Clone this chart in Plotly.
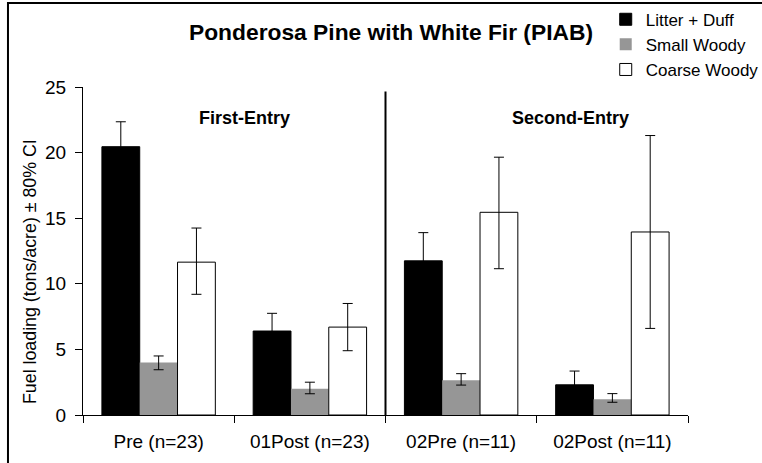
import plotly.graph_objects as go

# data (tons/acre, 80% CI limits)
categories = ["Pre (n=23)", "01Post (n=23)", "02Pre (n=11)", "02Post (n=11)"]
series = ["Litter + Duff", "Small Woody", "Coarse Woody"]

litter = [20.45, 6.4, 11.75, 2.3]
litter_hi = [22.35, 7.75, 13.9, 3.35]
litter_lo = [18.55, 5.05, 9.6, 1.25]

small = [4.0, 2.0, 2.65, 1.2]
small_hi = [4.5, 2.5, 3.15, 1.63]
small_lo = [3.45, 1.62, 2.28, 0.97]

coarse = [11.65, 6.7, 15.45, 13.95]
coarse_hi = [14.25, 8.5, 19.65, 21.3]
coarse_lo = [9.2, 4.9, 11.15, 6.6]

entry_labels = ["First-Entry", "Second-Entry"]

FONT = "Liberation Sans, Arial, sans-serif"


def err(vals, hi, lo):
    return dict(type="data", symmetric=False,
                array=[h - v for v, h in zip(vals, hi)],
                arrayminus=[v - l for v, l in zip(vals, lo)],
                color="black", thickness=1, width=5)


fig = go.Figure()
fig.add_trace(go.Bar(name=series[0], x=categories, y=litter,
                     marker=dict(color="black", line=dict(color="black", width=1)),
                     error_y=err(litter, litter_hi, litter_lo)))
fig.add_trace(go.Bar(name=series[1], x=categories, y=small,
                     marker=dict(color="#969696", line=dict(color="#969696", width=0)),
                     error_y=err(small, small_hi, small_lo)))
fig.add_trace(go.Bar(name=series[2], x=categories, y=coarse,
                     marker=dict(color="white", line=dict(color="black", width=1)),
                     error_y=err(coarse, coarse_hi, coarse_lo)))

# divider between first and second entry
fig.add_shape(type="line", xref="x", yref="y", x0=1.5, x1=1.5, y0=0, y1=24.65,
              line=dict(color="black", width=2))
# outer frame (cropped on the right and bottom)
fig.add_shape(type="rect", xref="paper", yref="paper",
              x0=-0.124, x1=1.3, y0=-0.3, y1=1.256,
              line=dict(color="black", width=2))

fig.add_annotation(text="<b>" + entry_labels[0] + "</b>", x=0.57, y=22.6,
                   xref="x", yref="y", showarrow=False, font=dict(size=18))
fig.add_annotation(text="<b>" + entry_labels[1] + "</b>", x=2.72, y=22.6,
                   xref="x", yref="y", showarrow=False, font=dict(size=18))
fig.add_annotation(text="Fuel loading (tons/acre) ± 80% CI", textangle=-90,
                   xref="paper", yref="paper", x=(30 - 83) / 605, y=(415 - 272) / 328,
                   xanchor="center", yanchor="middle", showarrow=False,
                   font=dict(size=17.8))

fig.update_layout(
    width=762, height=463,
    margin=dict(l=83, r=74, t=87, b=48, autoexpand=False),
    paper_bgcolor="white", plot_bgcolor="white",
    font=dict(family=FONT, color="black", size=16),
    title=dict(text="<b>Ponderosa Pine with White Fir (PIAB)</b>",
               x=391 / 762, xanchor="center", y=1 - 32 / 463, yanchor="middle",
               font=dict(size=22.8)),
    barmode="group", bargap=0.25, bargroupgap=0,
    showlegend=True,
    legend=dict(x=0.864, xanchor="left", y=1.26, yanchor="top",
                bgcolor="rgba(0,0,0,0)", font=dict(size=17),
                itemclick=False),
    xaxis=dict(showline=True, linecolor="black", linewidth=1,
               ticks="outside", ticklen=7, tickcolor="black",
               tickfont=dict(size=19),
               tickson="boundaries", ticklabelstandoff=9, showgrid=False),
    yaxis=dict(range=[0, 25], dtick=5, showline=True, linecolor="black",
               linewidth=1, ticks="outside", ticklen=7, tickcolor="black",
               tickfont=dict(size=19),
               showgrid=False, zeroline=False, ticklabelstandoff=5),
)

# drop the default page margin so the figure sits at the window's corner
fig.write_html("out.html", config={"displayModeBar": False},
               post_script="document.body.style.margin='0px';")
